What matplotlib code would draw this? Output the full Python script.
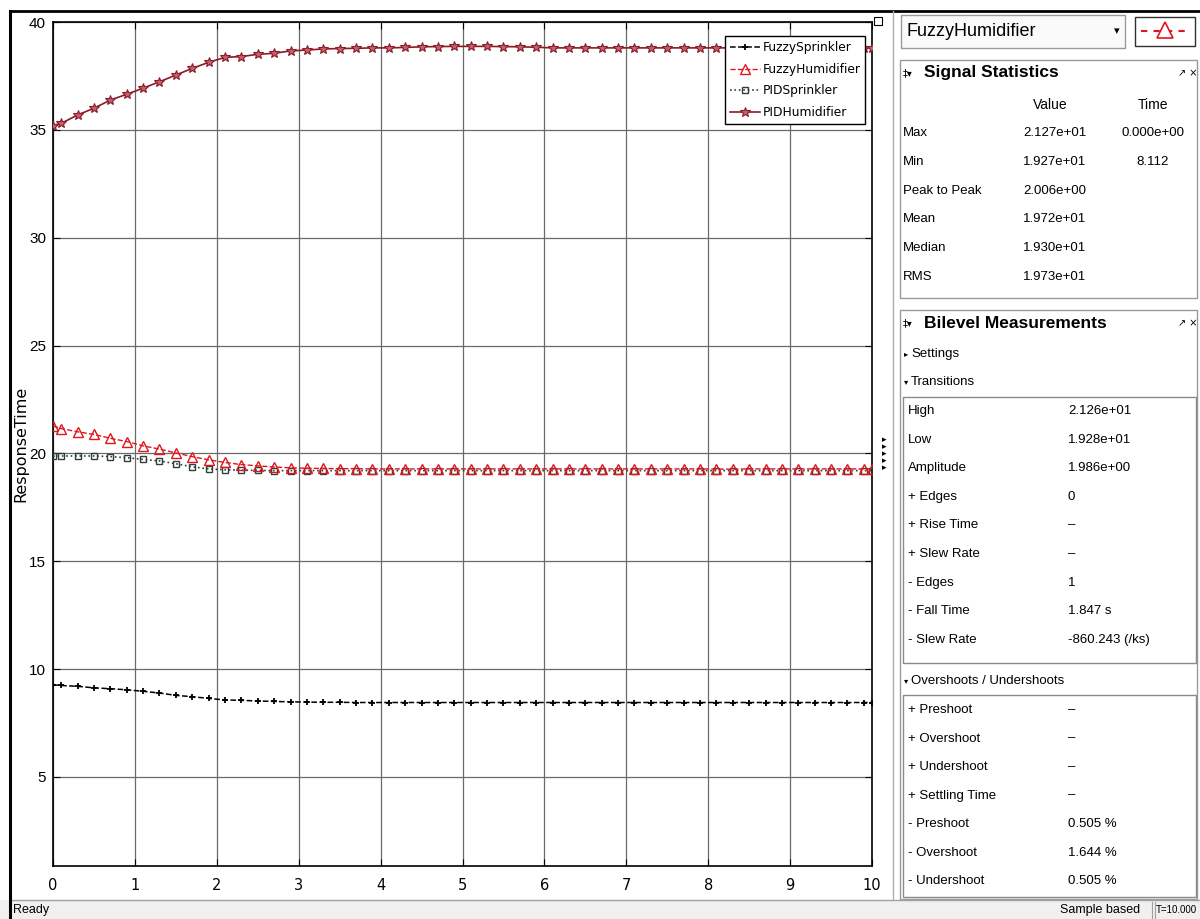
import matplotlib.pyplot as plt
from matplotlib.patches import Rectangle
from matplotlib.lines import Line2D

# sample times (s)
t = [0.0, 0.1, 0.3, 0.5, 0.7, 0.9, 1.1, 1.3, 1.5, 1.7, 1.9,
     2.1, 2.3, 2.5, 2.7, 2.9, 3.1, 3.3, 3.5, 3.7, 3.9,
     4.1, 4.3, 4.5, 4.7, 4.9, 5.1, 5.3, 5.5, 5.7, 5.9,
     6.1, 6.3, 6.5, 6.7, 6.9, 7.1, 7.3, 7.5, 7.7, 7.9,
     8.1, 8.3, 8.5, 8.7, 8.9, 9.1, 9.3, 9.5, 9.7, 9.9, 10.0]

fuzzy_sprinkler = [9.27, 9.24, 9.20, 9.13, 9.09, 9.04, 8.97, 8.89, 8.78, 8.72, 8.64,
                   8.57, 8.55, 8.52, 8.50, 8.48, 8.47, 8.46, 8.46, 8.45, 8.45,
                   8.45, 8.45, 8.45, 8.45, 8.45, 8.45, 8.45, 8.45, 8.45, 8.45,
                   8.45, 8.45, 8.45, 8.45, 8.45, 8.45, 8.45, 8.45, 8.45, 8.45,
                   8.45, 8.45, 8.45, 8.45, 8.45, 8.45, 8.45, 8.45, 8.45, 8.45, 8.45]

fuzzy_humidifier = [21.27, 21.15, 21.00, 20.88, 20.70, 20.55, 20.35, 20.20, 20.02, 19.85, 19.70,
                    19.58, 19.48, 19.42, 19.37, 19.33, 19.31, 19.30, 19.29, 19.29, 19.28,
                    19.28, 19.28, 19.28, 19.28, 19.28, 19.28, 19.28, 19.28, 19.28, 19.28,
                    19.28, 19.28, 19.28, 19.28, 19.28, 19.28, 19.28, 19.28, 19.28, 19.28,
                    19.27, 19.27, 19.28, 19.28, 19.28, 19.28, 19.28, 19.28, 19.28, 19.28, 19.28]

pid_sprinkler = [19.87, 19.88, 19.88, 19.88, 19.85, 19.80, 19.72, 19.65, 19.52, 19.38, 19.28,
                 19.24, 19.22, 19.21, 19.20, 19.20, 19.20, 19.20, 19.20, 19.20, 19.20,
                 19.20, 19.20, 19.20, 19.20, 19.20, 19.20, 19.20, 19.20, 19.20, 19.20,
                 19.20, 19.20, 19.20, 19.20, 19.20, 19.20, 19.20, 19.20, 19.20, 19.20,
                 19.20, 19.20, 19.20, 19.20, 19.20, 19.20, 19.20, 19.20, 19.20, 19.20, 19.20]

pid_humidifier = [35.20, 35.30, 35.69, 36.00, 36.38, 36.65, 36.93, 37.23, 37.54, 37.85, 38.13,
                  38.36, 38.40, 38.50, 38.55, 38.66, 38.70, 38.75, 38.77, 38.78, 38.80,
                  38.80, 38.82, 38.85, 38.86, 38.87, 38.87, 38.87, 38.86, 38.85, 38.83,
                  38.80, 38.80, 38.80, 38.80, 38.80, 38.80, 38.80, 38.80, 38.80, 38.80,
                  38.80, 38.80, 38.80, 38.80, 38.80, 38.80, 38.80, 38.80, 38.80, 38.80, 38.80]

stats_rows = [("Max", "2.127e+01", "0.000e+00"), ("Min", "1.927e+01", "8.112"),
              ("Peak to Peak", "2.006e+00", ""), ("Mean", "1.972e+01", ""),
              ("Median", "1.930e+01", ""), ("RMS", "1.973e+01", "")]
transition_rows = [("High", "2.126e+01"), ("Low", "1.928e+01"), ("Amplitude", "1.986e+00"),
                   ("+ Edges", "0"), ("+ Rise Time", "–"), ("+ Slew Rate", "–"),
                   ("- Edges", "1"), ("- Fall Time", "1.847 s"), ("- Slew Rate", "-860.243 (/ks)")]
overshoot_rows = [("+ Preshoot", "–"), ("+ Overshoot", "–"), ("+ Undershoot", "–"),
                  ("+ Settling Time", "–"), ("- Preshoot", "0.505 %"),
                  ("- Overshoot", "1.644 %"), ("- Undershoot", "0.505 %")]

W, H = 1200, 919
NARROW = ['Liberation Sans Narrow', 'Liberation Sans', 'DejaVu Sans']


def fx(x):
    return x / W


def fy(y):
    return 1 - y / H


fig = plt.figure(figsize=(12, 9.19), dpi=100)


def box(x0, y0, x1, y1, **kw):
    fig.add_artist(Rectangle((fx(x0), fy(y1)), (x1 - x0) / W, (y1 - y0) / H,
                             transform=fig.transFigure, **kw))


def hline(x0, x1, y, **kw):
    fig.add_artist(Line2D([fx(x0), fx(x1)], [fy(y), fy(y)], transform=fig.transFigure, **kw))


def vline(x, y0, y1, **kw):
    fig.add_artist(Line2D([fx(x), fx(x)], [fy(y0), fy(y1)], transform=fig.transFigure, **kw))


def label(x, y, s, **kw):
    kw.setdefault('fontsize', 9.5)
    kw.setdefault('family', NARROW)
    fig.text(fx(x), fy(y), s, va='center', **kw)


# --- plot area ---
ax = fig.add_axes([fx(53), fy(866), (872 - 53) / W, (866 - 22) / H])
ax.plot(t, fuzzy_sprinkler, '--', color='black', lw=1.1, marker='+', ms=5, mew=1.3,
        label='FuzzySprinkler', zorder=3)
ax.plot(t, fuzzy_humidifier, '--', color='#e0161c', lw=1.0, marker='^', ms=7,
        mfc='none', mew=1.0, label='FuzzyHumidifier', zorder=4)
ax.plot(t, pid_sprinkler, ':', color='#2f403b', lw=1.2, marker='s', ms=5,
        mfc='none', mew=1.0, label='PIDSprinkler', zorder=3)
ax.plot(t, pid_humidifier, '-', color='#8b1a24', lw=1.2, marker='*', ms=7,
        mfc='#c06070', mew=0.8, label='PIDHumidifier', zorder=3)

ax.set_xlim(0, 10)
ax.set_ylim(0.87, 40)
ax.set_xticks(range(0, 11))
ax.set_yticks(range(5, 41, 5))
ax.grid(True, color='#6a6a6a', lw=0.9)
ax.tick_params(direction='in', length=5, right=True, top=True, color='black')
for lab in ax.get_xticklabels():
    lab.set_fontsize(10.5)
    lab.set_family('DejaVu Sans')
for lab in ax.get_yticklabels():
    lab.set_fontsize(11)
    lab.set_family(['Liberation Sans', 'DejaVu Sans'])
ax.tick_params(axis='x', pad=9)
ax.tick_params(axis='y', pad=5)
for sp in ax.spines.values():
    sp.set_linewidth(1.2)
ax.set_ylabel('ResponseTime', fontsize=11.5)
ax.yaxis.set_label_coords(-0.030, 0.5)

leg = ax.legend(loc='upper right', bbox_to_anchor=(0.992, 0.983), fontsize=8.8,
                frameon=True, fancybox=False, edgecolor='black', framealpha=1,
                handlelength=2.5, labelspacing=0.7, borderpad=0.4, handletextpad=0.2,
                borderaxespad=0)
leg.get_frame().set_linewidth(1.0)

# small widgets at the right edge of the axes
box(874, 17, 882, 25, fc='white', ec='black', lw=0.8)
for yy in [440, 447, 454, 461, 468]:
    label(884, yy, '▸', fontsize=6.5, family='DejaVu Sans', ha='center')

# --- window frame and status bar ---
box(0, 900, 1200, 919, fc='#f0f0f0', ec='none')
hline(10, 1200, 900, color='#a0a0a0', lw=1)
hline(10, 1200, 11, color='black', lw=2)
vline(10, 11, 919, color='black', lw=2.2)
vline(893, 11, 900, color='#b0b0b0', lw=1)
label(13, 910, 'Ready', fontsize=9)
label(1060, 910, 'Sample based', fontsize=9)
vline(1152, 902, 919, color='#a0a0a0', lw=0.8)
vline(1155, 902, 919, color='#a0a0a0', lw=0.8)
label(1156, 910, 'T=10.000', fontsize=7)

# --- right panel: signal selector ---
box(901, 15, 1125, 48, fc='#fafafa', ec='#9a9a9a', lw=1)
label(906, 32, 'FuzzyHumidifier', fontsize=13)
label(1117, 31, '▾', fontsize=8, family='DejaVu Sans', ha='center')
box(1135, 17, 1195, 46, fc='white', ec='#303030', lw=1)
fig.add_artist(Line2D([fx(1141), fx(1189)], [fy(31), fy(31)], transform=fig.transFigure,
                      ls='--', color='#e0161c', lw=1.5, dashes=(3, 3)))
fig.add_artist(Line2D([fx(1165)], [fy(30)], transform=fig.transFigure, ls='none',
                      marker='^', ms=12, mfc='white', mec='#e0161c', mew=1.2))

# --- Signal Statistics ---
box(900, 60, 1197, 298, fc='white', ec='#9a9a9a', lw=1)
label(903, 73, '‡▾', fontsize=7, family='DejaVu Sans')
label(924, 73, 'Signal Statistics', fontsize=12.5, fontweight='bold')
label(1178, 73, '↗ ×', fontsize=7, family='DejaVu Sans')
label(1050, 105, 'Value', fontsize=10, ha='center')
label(1153, 105, 'Time', fontsize=10, ha='center')
for i, (name, val, tm) in enumerate(stats_rows):
    yy = 133 + i * 28.8
    label(903, yy, name)
    label(1055, yy, val, ha='center')
    if tm:
        label(1153, yy, tm, ha='center')

# --- Bilevel Measurements ---
box(900, 310, 1197, 899, fc='white', ec='#9a9a9a', lw=1)
label(903, 323, '‡▾', fontsize=7, family='DejaVu Sans')
label(924, 323, 'Bilevel Measurements', fontsize=12.5, fontweight='bold')
label(1178, 323, '↗ ×', fontsize=7, family='DejaVu Sans')
label(904, 354, '▸', fontsize=6, family='DejaVu Sans')
label(911, 354, 'Settings')
label(904, 382, '▾', fontsize=6, family='DejaVu Sans')
label(911, 382, 'Transitions')
box(903, 397, 1196, 663, fc='white', ec='#8a8a8a', lw=1)
for i, (name, val) in enumerate(transition_rows):
    yy = 411 + i * 28.6
    label(908, yy, name)
    label(1068, yy, val)
label(904, 681, '▾', fontsize=6, family='DejaVu Sans')
label(911, 681, 'Overshoots / Undershoots')
box(903, 695, 1196, 897, fc='white', ec='#8a8a8a', lw=1)
for i, (name, val) in enumerate(overshoot_rows):
    yy = 710 + i * 28.5
    label(908, yy, name)
    label(1068, yy, val)

fig.savefig('out.png', dpi=100)
